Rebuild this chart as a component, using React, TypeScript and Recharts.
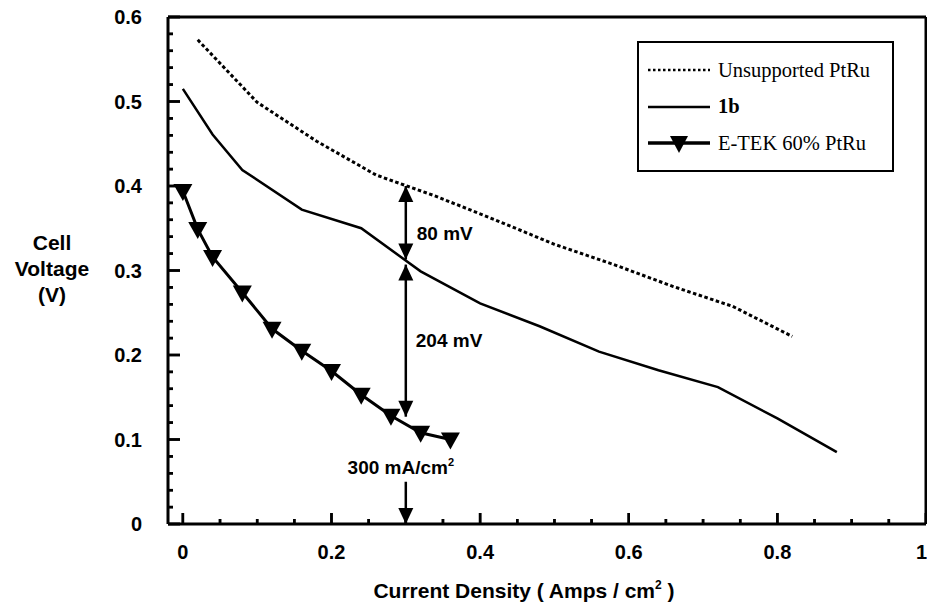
import React from 'react';
import { LineChart, Line, XAxis, YAxis, ReferenceLine, Legend, Label } from 'recharts';

// Current density (A/cm2) and cell voltage (V)
const unsupportedX = [0.02, 0.1, 0.18, 0.26, 0.34, 0.42, 0.5, 0.58, 0.66, 0.74, 0.82];
const unsupportedV = [0.573, 0.499, 0.453, 0.413, 0.388, 0.36, 0.331, 0.307, 0.281, 0.2575, 0.222];

const b1X = [0, 0.04, 0.08, 0.16, 0.24, 0.32, 0.4, 0.48, 0.56, 0.64, 0.72, 0.8, 0.88];
const b1V = [0.515, 0.461, 0.419, 0.372, 0.35, 0.299, 0.261, 0.234, 0.204, 0.182, 0.162, 0.125, 0.085];

const etekX = [0, 0.02, 0.04, 0.08, 0.12, 0.16, 0.2, 0.24, 0.28, 0.32, 0.36];
const etekV = [0.394, 0.349, 0.316, 0.274, 0.231, 0.205, 0.181, 0.153, 0.128, 0.108, 0.1];

const seriesOrder = ['Unsupported PtRu', '1b', 'E-TEK 60% PtRu'];

const xDomain = [-0.02, 1];
const yDomain = [0, 0.6];
const xTicks = [0, 0.05, 0.1, 0.15, 0.2, 0.25, 0.3, 0.35, 0.4, 0.45, 0.5, 0.55, 0.6, 0.65, 0.7, 0.75, 0.8, 0.85, 0.9, 0.95, 1];
const yTicks = [
  0, 0.02, 0.04, 0.06, 0.08, 0.1, 0.12, 0.14, 0.16, 0.18, 0.2, 0.22, 0.24, 0.26, 0.28, 0.3,
  0.32, 0.34, 0.36, 0.38, 0.4, 0.42, 0.44, 0.46, 0.48, 0.5, 0.52, 0.54, 0.56, 0.58, 0.6
];

// annotation at 300 mA/cm2
const markX = 0.3;
const gapUpper = [0.313, 0.4];
const gapLower = [0.127, 0.307];
const markDown = [0.05, 0];

const unsupportedData = unsupportedX.map((x, i) => ({ x, v: unsupportedV[i] }));
const b1Data = b1X.map((x, i) => ({ x, v: b1V[i] }));
const etekData = etekX.map((x, i) => ({ x, v: etekV[i] }));
// positions of the inward tick marks on the bottom and left axes
const xTickMarks = xTicks.map((x) => ({ x, v: yDomain[0] }));
const yTickMarks = yTicks.map((v) => ({ x: xDomain[0], v }));

const SANS = '"Liberation Sans", Arial, sans-serif';

const isMultiple = (v: number, step: number) => Math.abs(v / step - Math.round(v / step)) < 1e-6;

const XTick = (props: any) => {
  const { x, y, payload } = props;
  const major = isMultiple(payload.value, 0.2);
  const len = major ? 11 : 5;
  const last = payload.value === 1;
  return (
    <g>
      <rect x={x - 1.25} y={y - len} width={2.5} height={len} fill="#000" stroke="none" />
      {major && (
        <text
          x={last ? x + 1 : x}
          y={y + 35}
          textAnchor={last ? 'end' : 'middle'}
          fontFamily={SANS}
          fontWeight="bold"
          fontSize={20}
          fill="#000"
        >
          {String(payload.value)}
        </text>
      )}
    </g>
  );
};

const YTick = (props: any) => {
  const { x, y, payload } = props;
  const major = isMultiple(payload.value, 0.1);
  const len = major ? 12 : 5;
  return (
    <g>
      <rect x={x} y={y - 1.25} width={len} height={2.5} fill="#000" stroke="none" />
      {major && (
        <text x={x - 26} y={y + 7} textAnchor="end" fontFamily={SANS} fontWeight="bold" fontSize={20} fill="#000">
          {String(payload.value)}
        </text>
      )}
    </g>
  );
};

// tick marks drawn as dots of an invisible series, so the scales place them
const XTickDot = (props: any) => {
  const { cx, cy, payload } = props;
  if (cx == null || cy == null) return null;
  const len = isMultiple(payload.x, 0.2) ? 11 : 5;
  return <rect x={cx - 1.25} y={cy - len} width={2.5} height={len} fill="#000" />;
};

const YTickDot = (props: any) => {
  const { cx, cy, payload } = props;
  if (cx == null || cy == null) return null;
  const len = isMultiple(payload.v, 0.1) ? 12 : 5;
  return <rect x={cx} y={cy - 1.25} width={len} height={2.5} fill="#000" />;
};

const TriangleDot = (props: any) => {
  const { cx, cy } = props;
  if (cx == null || cy == null) return null;
  return <polygon points={`${cx - 9.5},${cy - 7} ${cx + 9.5},${cy - 7} ${cx},${cy + 10}`} fill="#000" />;
};

const head = (tx: number, ty: number, dir: number) => (
  <polygon points={`${tx},${ty} ${tx - 7.5},${ty - dir * 16} ${tx + 7.5},${ty - dir * 16}`} fill="#000" />
);

// segment goes from first to second point; heads drawn at either end
const arrowShape = (startHead: boolean, endHead: boolean) => (p: any) => {
  const { x1, y1, x2, y2 } = p;
  const dir = y2 > y1 ? 1 : -1;
  return (
    <g>
      <line x1={x1} y1={y1} x2={x2} y2={y2} stroke="#000" strokeWidth={2.5} />
      {startHead && head(x1, y1, -dir)}
      {endHead && head(x2, y2, dir)}
    </g>
  );
};

const legendLook: Record<string, { dash?: string; width: number; marker?: boolean; bold?: boolean }> = {
  'Unsupported PtRu': { dash: '2.5 2.5', width: 2.5 },
  '1b': { width: 2.5, bold: true },
  'E-TEK 60% PtRu': { width: 3.5, marker: true }
};

const renderLegend = (props: any) => {
  const items = (props.payload || [])
    .filter((e: any) => seriesOrder.includes(e.value))
    .sort((a: any, b: any) => seriesOrder.indexOf(a.value) - seriesOrder.indexOf(b.value));
  return (
    <div
      style={{
        width: 257,
        height: 131,
        border: '2.5px solid #000',
        boxSizing: 'border-box',
        background: '#fff',
        paddingTop: 9,
        paddingLeft: 9,
        fontFamily: '"Liberation Serif", "Times New Roman", serif',
        fontSize: 20.5,
        color: '#000'
      }}
    >
      {items.map((entry: any) => {
        const look = legendLook[entry.value] || { width: 2 };
        return (
          <div key={entry.value} style={{ display: 'flex', alignItems: 'center', height: 36.5 }}>
            <svg width={62} height={22} style={{ display: 'block' }}>
              <line x1={0} y1={11} x2={62} y2={11} stroke="#000" strokeWidth={look.width} strokeDasharray={look.dash} />
              {look.marker && <polygon points="22,4 40,4 31,21" fill="#000" />}
            </svg>
            <span style={{ marginLeft: 8, fontWeight: look.bold ? 'bold' : 'normal' }}>{entry.value}</span>
          </div>
        );
      })}
    </div>
  );
};

export default function App() {
  return (
    <div style={{ position: 'absolute', left: 0, top: 0, background: '#fff' }}>
      <LineChart width={927} height={606} margin={{ top: 17, right: 1, bottom: 81, left: 167 }}>
        <XAxis
          type="number"
          dataKey="x"
          domain={xDomain}
          ticks={xTicks}
          interval={0}
          tick={<XTick />}
          tickLine={false}
          axisLine={false}
          tickSize={0}
          tickMargin={0}
          height={1}
        >
          <Label
            content={() => (
              <text x={524} y={598} textAnchor="middle" fontFamily={SANS} fontWeight="bold" fontSize={21} fill="#000">
                Current Density ( Amps / cm
                <tspan dy={-9} fontSize={12}>2</tspan>
                <tspan dy={9}> )</tspan>
              </text>
            )}
          />
        </XAxis>
        <YAxis
          type="number"
          domain={yDomain}
          ticks={yTicks}
          interval={0}
          tick={<YTick />}
          tickLine={false}
          axisLine={false}
          tickSize={0}
          tickMargin={0}
          width={1}
        >
          <Label
            content={() => (
              <text textAnchor="middle" fontFamily={SANS} fontWeight="bold" fontSize={21} fill="#000">
                <tspan x={52} y={250}>Cell</tspan>
                <tspan x={52} y={276}>Voltage</tspan>
                <tspan x={52} y={302}>(V)</tspan>
              </text>
            )}
          />
        </YAxis>
        {/* plot frame */}
        <ReferenceLine x={xDomain[0]} stroke="#000" strokeWidth={3} ifOverflow="visible" />
        <ReferenceLine x={xDomain[1]} stroke="#000" strokeWidth={3} ifOverflow="visible" />
        <ReferenceLine y={yDomain[0]} stroke="#000" strokeWidth={3} ifOverflow="visible" />
        <ReferenceLine y={yDomain[1]} stroke="#000" strokeWidth={3} ifOverflow="visible" />
        <Legend verticalAlign="middle" align="center" layout="horizontal" content={renderLegend} wrapperStyle={{ left: 637, top: 41, width: 257, height: 131 }} />
        <Line
          name="x ticks"
          data={xTickMarks}
          dataKey="v"
          stroke="none"
          dot={<XTickDot />}
          activeDot={false}
          legendType="none"
          isAnimationActive={false}
        />
        <Line
          name="y ticks"
          data={yTickMarks}
          dataKey="v"
          stroke="none"
          dot={<YTickDot />}
          activeDot={false}
          legendType="none"
          isAnimationActive={false}
        />
        <Line
          name="Unsupported PtRu"
          data={unsupportedData}
          dataKey="v"
          stroke="#000"
          strokeWidth={3}
          strokeDasharray="3.5 2.5"
          dot={false}
          isAnimationActive={false}
        />
        <Line name="1b" data={b1Data} dataKey="v" stroke="#000" strokeWidth={2.5} dot={false} isAnimationActive={false} />
        <Line
          name="E-TEK 60% PtRu"
          data={etekData}
          dataKey="v"
          stroke="#000"
          strokeWidth={3}
          dot={<TriangleDot />}
          isAnimationActive={false}
        />
        <ReferenceLine
          segment={[{ x: markX, y: gapUpper[0] }, { x: markX, y: gapUpper[1] }]}
          shape={arrowShape(true, true)}
          label={{ value: '80 mV', position: 'right', offset: 11, dy: 10, fill: '#000', fontFamily: SANS, fontWeight: 'bold', fontSize: 19 }}
        />
        <ReferenceLine
          segment={[{ x: markX, y: gapLower[0] }, { x: markX, y: gapLower[1] }]}
          shape={arrowShape(true, true)}
          label={{ value: '204 mV', position: 'right', offset: 10, fill: '#000', fontFamily: SANS, fontWeight: 'bold', fontSize: 19 }}
        />
        <ReferenceLine
          segment={[{ x: markX, y: markDown[0] }, { x: markX, y: markDown[1] }]}
          shape={arrowShape(false, true)}
          label={(p: any) => {
            const vb = p.viewBox || {};
            const x = (vb.x ?? 0) - 5;
            const y = (vb.y ?? 0) - 8;
            return (
              <text x={x} y={y} textAnchor="middle" fontFamily={SANS} fontWeight="bold" fontSize={19} fill="#000">
                300 mA/cm
                <tspan dy={-8} fontSize={11}>2</tspan>
              </text>
            );
          }}
        />
      </LineChart>
    </div>
  );
}
